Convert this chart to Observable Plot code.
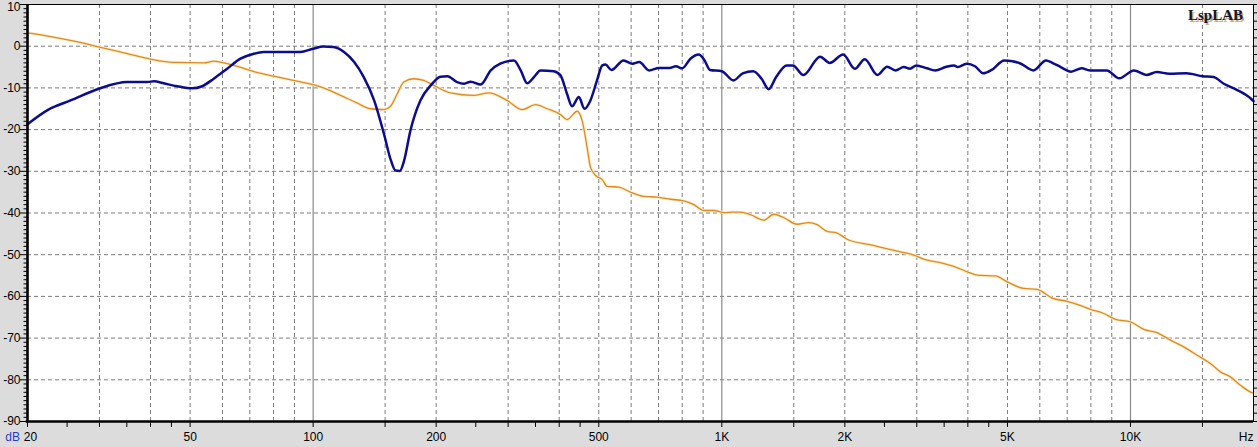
<!DOCTYPE html>
<html>
<head>
<meta charset="utf-8">
<script src="https://cdn.jsdelivr.net/npm/d3@7"></script>
<script src="https://cdn.jsdelivr.net/npm/@observablehq/plot@0.6"></script>
<style>
  html, body { margin: 0; padding: 0; background: #dcdcdc; overflow: hidden; }
  svg { display: block; }
</style>
</head>
<body>
<div id="chart"></div>
<script>
// ---- Data ----
const blueFreq = [20,22.5,25.5,29.9,35.1,39.3,40.8,43.1,46.5,50.6,53.5,57.1,61.6,66.4,71.6,75.7,93,100,106,112,119,126,133,141,149,155,159,163,167,173,183,194,205,213,225,234,243,257,272,287,310,322,334,347,360,388,403,418,430,447,461,477,495,510,519,537,575,604,628,664,702,745,772,800,838,878,906,936,1000,1068,1125,1193,1251,1302,1358,1441,1493,1583,1740,1836,1981,2116,2238,2404,2538,2660,2788,2888,2992,3176,3327,3530,3700,3780,3972,4164,4362,4573,4910,5145,5394,5787,6214,6438,6750,7157,7594,7958,8749,9388,10196,10940,11600,12450,13690,15040,15960,16920,18160,19720,20000];
const blueDb = [-18.7,-15.2,-13.0,-10.2,-8.6,-8.6,-8.4,-8.9,-9.6,-10.1,-9.6,-7.8,-5.4,-3.0,-1.8,-1.4,-1.4,-0.6,-0.1,-0.2,-1.4,-3.8,-7.4,-13.0,-21.0,-27.4,-29.8,-29.9,-27.4,-20.2,-13.0,-9.4,-7.3,-7.2,-8.6,-9.0,-8.5,-9.2,-5.8,-4.2,-3.4,-5.8,-8.9,-7.4,-5.8,-6.0,-7.0,-11.4,-14.4,-12.2,-15.0,-13.0,-8.2,-4.6,-4.4,-5.7,-3.4,-4.2,-3.8,-5.8,-5.2,-5.2,-4.8,-5.3,-3.0,-2.0,-3.3,-5.7,-6.0,-8.2,-6.5,-6.0,-7.8,-10.3,-7.4,-4.6,-4.6,-6.9,-2.5,-4.0,-2.0,-5.4,-3.1,-6.9,-4.9,-5.8,-5.0,-5.4,-4.6,-5.3,-5.8,-5.0,-4.6,-5.0,-4.2,-4.8,-6.5,-5.7,-3.4,-3.6,-4.2,-5.8,-3.4,-4.0,-5.0,-6.1,-5.3,-5.8,-5.8,-7.7,-5.8,-6.9,-6.2,-6.6,-6.5,-7.2,-7.4,-9.0,-10.4,-12.6,-13.2];

const orangeFreq = [20,22.8,26,30,35.1,40,45.6,54,57.1,59.3,64,71.6,80.1,91.4,100,106,116.7,128,138,149,154.6,160.6,166.6,176.3,186.5,197.3,216.8,247,269,298,325,350,374,403,418,443,455,468,477,491,510,524,560,598,644,695,749,807,854,903,956,1015,1062,1111,1175,1267,1340,1418,1528,1632,1711,1810,1915,2026,2300,2735,2950,3150,3460,3695,3986,4215,4674,4993,5482,5910,6433,6998,7403,7980,8603,9187,10000,10776,11616,12522,13496,14555,15690,16596,17562,18578,19845,20000];
const orangeDb = [3.2,2.3,1.2,-0.2,-1.8,-3.1,-3.9,-4.0,-3.6,-3.8,-4.6,-6.1,-7.2,-8.4,-9.2,-10.0,-11.8,-13.6,-15.0,-15.2,-14.4,-11.4,-8.6,-7.8,-8.2,-9.4,-11.2,-11.8,-11.2,-13.0,-15.2,-14.0,-15.0,-16.4,-17.6,-15.6,-17.8,-24.2,-29.0,-31.0,-32.0,-33.6,-33.8,-35.0,-36.0,-36.2,-36.7,-37.1,-38.0,-39.4,-39.4,-39.9,-39.8,-39.8,-40.4,-41.7,-40.3,-41.1,-42.7,-42.3,-42.8,-44.4,-44.8,-46.3,-47.6,-49.3,-50.1,-51.2,-52.0,-52.8,-54.1,-54.9,-55.1,-56.5,-58.1,-58.3,-60.4,-61.2,-61.9,-63.1,-64.1,-65.5,-66.1,-67.9,-68.7,-70.5,-72.1,-74.1,-76.1,-78.1,-79.3,-81.3,-83.1,-83.2];

// Axis / grid definitions
const xTickLabelValues = [20, 50, 100, 200, 500, 1000, 2000, 5000, 10000];
const xTickLabels = ["20", "50", "100", "200", "500", "1K", "2K", "5K", "10K"];
const xTickValues = [20,25,30,35,40,45,50,100,150,200,250,300,350,400,450,500,1000,1500,2000,2500,3000,3500,4000,4500,5000,10000,15000];
const xGridDashed = [30,40,50,60,70,80,90,150,200,300,400,500,600,700,800,900,1500,2000,3000,4000,5000,6000,7000,8000,9000,15000];
const xGridSolid = [100, 1000, 10000];
const yMajor = [10,0,-10,-20,-30,-40,-50,-60,-70,-80,-90];
const yGrid = [0,-10,-20,-30,-40,-50,-60,-70,-80];
const yMinor = d3.range(-90, 11, 1).filter(v => v % 10 !== 0);
const yRightTicks = d3.range(-90, 11, 2);

const blue = blueFreq.map((f, i) => ({f, db: blueDb[i]}));
const orange = orangeFreq.map((f, i) => ({f, db: orangeDb[i]}));
const xLabelRows = xTickLabelValues.map((f, i) => ({f, label: xTickLabels[i]}));

const gridColor = "#7c7c7c";
const fontSans = "'Liberation Sans', Arial, sans-serif";
const fontSerif = "'Liberation Serif', 'Times New Roman', serif";

const chart = Plot.plot({
  width: 1258,
  height: 447,
  marginLeft: 27,
  marginRight: 5,
  marginTop: 4,
  marginBottom: 26,
  style: {background: "#dcdcdc", fontFamily: fontSans, fontSize: "12px", color: "black", overflow: "visible"},
  x: {type: "log", domain: [20, 20000], axis: null},
  y: {domain: [-90, 10], axis: null},
  marks: [
    Plot.frame({fill: "white"}),
    Plot.ruleY(yGrid, {stroke: gridColor, strokeDasharray: "4,3", strokeWidth: 1}),
    Plot.ruleX(xGridDashed, {stroke: gridColor, strokeDasharray: "4,3", strokeWidth: 1}),
    Plot.ruleX(xGridSolid, {stroke: "#8a8a8a", strokeWidth: 1.2}),
    // orange light halo + line
    Plot.line(orange, {x: "f", y: "db", stroke: "#fdeccb", strokeWidth: 3, curve: "monotone-x"}),
    Plot.line(orange, {x: "f", y: "db", stroke: "#e08a1c", strokeWidth: 1.3, curve: "monotone-x"}),
    Plot.line(blue, {x: "f", y: "db", stroke: "#0c0c8e", strokeWidth: 2.5, curve: "monotone-x"}),
    // frame (top/right thin)
    Plot.frame({stroke: "black", strokeWidth: 1}),
    // left & bottom thick axis lines
    Plot.ruleX([20], {stroke: "black", strokeWidth: 2.6, insetBottom: -1.3}),
    Plot.ruleY([-90], {stroke: "black", strokeWidth: 2.6, insetLeft: -1.3}),
    // left ticks
    Plot.ruleY(yMajor, {x1: 20, x2: 20, insetLeft: -7, stroke: "black", strokeWidth: 1}),
    Plot.ruleY(yMinor, {x1: 20, x2: 20, insetLeft: -3.5, stroke: "black", strokeWidth: 1}),
    // right ticks
    Plot.ruleY(yRightTicks, {x1: 20000, x2: 20000, insetRight: -4, stroke: "black", strokeWidth: 1}),
    // bottom ticks
    Plot.ruleX(xTickValues, {y1: -90, y2: -90, insetBottom: -6, stroke: "black", strokeWidth: 1}),
    // y labels (top one nudged down so it stays inside the picture)
    Plot.text(yMajor.filter(d => d !== 10), {x: 20, y: d => d, text: d => String(d), textAnchor: "end", dx: -7, fill: "black", fontSize: 12}),
    Plot.text([10], {x: 20, y: d => d, text: d => String(d), textAnchor: "end", dx: -7, dy: 3, fill: "black", fontSize: 12}),
    // x labels (first one sits just right of its tick, as in the reference)
    Plot.text(xLabelRows.slice(0, 1), {x: "f", y: -90, text: "label", dy: 16, dx: 3, fill: "black", fontSize: 12}),
    Plot.text(xLabelRows.slice(1), {x: "f", y: -90, text: "label", dy: 16, fill: "black", fontSize: 12}),
    Plot.text(["dB"], {x: 20, y: -90, text: d => d, dy: 16, dx: -7.5, textAnchor: "end", fill: "#1f3ccf", fontSize: 12}),
    Plot.text(["Hz"], {x: 20000, y: -90, text: d => d, dy: 16, textAnchor: "end", fill: "black", fontSize: 12}),
    // LspLAB logo with shadow
    Plot.text(["LspLAB"], {frameAnchor: "top-right", text: d => d, dx: -9, dy: 6.5, fill: "#c9ad7a", fontFamily: fontSerif, fontWeight: "bold", fontSize: 15}),
    Plot.text(["LspLAB"], {frameAnchor: "top-right", text: d => d, dx: -10.5, dy: 5, fill: "#15152a", fontFamily: fontSerif, fontWeight: "bold", fontSize: 15})
  ]
});
document.getElementById("chart").appendChild(chart);
</script>
</body>
</html>
